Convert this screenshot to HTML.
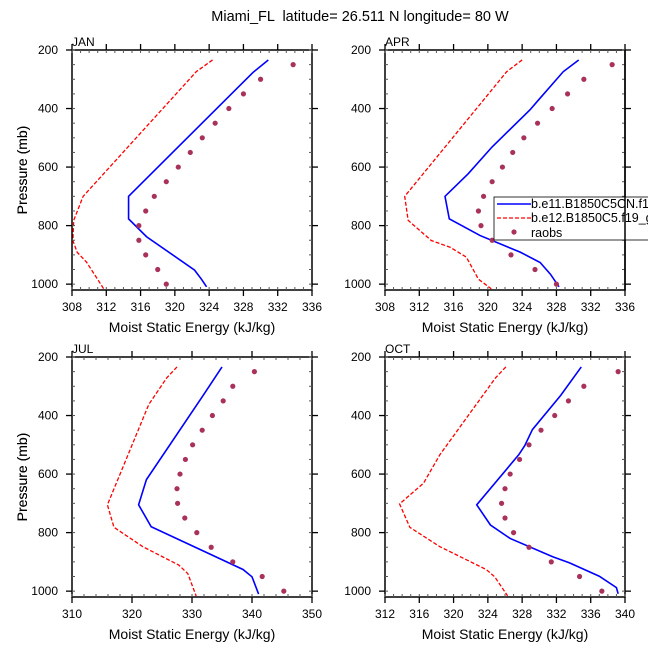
<!DOCTYPE html>
<html><head><meta charset="utf-8"><style>
body{margin:0;background:#fff;}
svg{display:block;font-family:"Liberation Sans",Arial,sans-serif;}
</style></head><body>
<svg id="c" width="648" height="648" viewBox="0 0 648 648">
<text x="360" y="21" font-size="14.5" text-anchor="middle" xml:space="preserve" style="white-space:pre">Miami_FL  latitude= 26.511 N longitude= 80 W</text>
</svg>
<script>
// ---- data ----
const obsP = [250,300,350,400,450,500,550,600,650,700,750,800,850,900,950,1000];
const janObs = [333.8,330.0,328.0,326.3,324.7,323.2,321.8,320.4,319.0,317.6,316.6,315.8,315.8,316.6,318.0,319.0];
const aprObs = [334.5,331.2,329.3,327.5,325.8,324.2,322.9,321.7,320.5,319.5,318.9,319.2,320.5,322.7,325.5,328.0];
const julObs = [340.4,336.8,335.2,333.4,331.7,330.1,328.9,328.0,327.5,327.6,328.8,330.8,333.2,336.8,341.7,345.3];
const octObs = [339.2,335.2,333.4,331.8,330.2,328.8,327.7,326.6,326.0,325.6,326.0,327.0,328.8,331.4,334.7,337.3];

const janBlueP = [234,277,700,777,838,952,983,1009];
const janBlueV = [330.9,329.1,314.6,314.6,316.7,322.3,323.1,323.7];
const janRedP = [234,274,700,782,851,891,925,1016];
const janRedV = [324.4,322.5,309.3,308.2,308.1,308.6,309.7,311.7];

const aprBlueP = [234,274,371,405,531,623,700,777,834,891,926,966,1009];
const aprBlueV = [330.6,328.8,325.9,324.9,320.5,317.7,315.0,315.5,319.1,323.8,326.1,327.3,328.3];
const aprRedP = [234,274,700,782,851,874,908,983,1016];
const aprRedV = [324.0,322.2,310.3,310.7,313.4,315.6,317.5,318.9,320.4];

const julBlueP = [234,333,619,705,780,926,951,1010];
const julBlueV = [335.0,331.8,322.4,321.1,323.2,338.5,340.0,341.1];
const julRedP = [234,271,362,705,782,848,911,940,1017];
const julRedV = [327.5,325.8,322.8,315.9,317.0,321.8,327.8,329.3,330.7];

const octBlueP = [234,331,448,503,534,705,774,820,883,903,949,988,1009];
const octBlueV = [334.9,332.5,329.2,328.3,327.6,322.7,324.3,326.6,331.6,333.5,337.0,339.0,339.2];
const octRedP = [234,271,534,631,702,782,848,926,951,1016];
const octRedV = [326.1,324.9,318.4,316.5,313.7,314.9,318.4,323.8,324.8,326.3];

const pTicks = [200,400,600,800,1000];
const janX = [308,312,316,320,324,328,332,336];
const julX = [310,320,330,340,350];
const octX = [312,316,320,324,328,332,336,340];

const NS='http://www.w3.org/2000/svg';
const svg=document.getElementById('c');
function mk(tag,attrs,parent){const e=document.createElementNS(NS,tag);for(const k in attrs)e.setAttribute(k,attrs[k]);(parent||svg).appendChild(e);return e;}

function panel(name,x0,y0,xmin,xmax,xticks,minorStep,obs,bP,bV,rP,rV){
  const W=240,H=240;
  const g=mk('g',{});
  
  
  const xs=v=>x0+(v-xmin)/(xmax-xmin)*W;
  const ys=p=>y0+(p-200)/820*H;
  const cid='clip'+name;
  const cp=mk('clipPath',{id:cid},g);mk('rect',{x:x0,y:y0,width:W,height:H},cp);
  const blue=mk('polyline',{points:bP.map((p,i)=>xs(bV[i])+','+ys(p)).join(' '),fill:'none',stroke:'#0000ff','stroke-width':1.6,'clip-path':'url(#'+cid+')'},g);
  
  
  const red=mk('polyline',{points:rP.map((p,i)=>xs(rV[i])+','+ys(p)).join(' '),fill:'none',stroke:'#ff0000','stroke-width':1.3,'stroke-dasharray':'4,2','clip-path':'url(#'+cid+')'},g);
  
  
  obs.forEach((v,i)=>{
    const c=mk('circle',{cx:xs(v),cy:ys(obsP[i]),r:2.6,fill:'#a8325c'},g);
    
    
  });
  mk('rect',{x:x0,y:y0,width:W,height:H,fill:'none',stroke:'#000','stroke-width':1.5},g);
  for(let v=xmin;v<=xmax+1e-6;v+=minorStep){
    const X=xs(v);
    mk('line',{x1:X,y1:y0+H,x2:X,y2:y0+H-3,stroke:'#555','stroke-width':1},g);
    mk('line',{x1:X,y1:y0,x2:X,y2:y0+3,stroke:'#555','stroke-width':1},g);
  }
  xticks.forEach(v=>{
    const X=xs(v);
    mk('line',{x1:X,y1:y0+H,x2:X,y2:y0+H+6,stroke:'#000','stroke-width':1.3},g);
    mk('line',{x1:X,y1:y0,x2:X,y2:y0-6,stroke:'#000','stroke-width':1.3},g);
    const t=mk('text',{x:X,y:y0+H+21,'font-size':12,'text-anchor':'middle'},g);t.textContent=v;
    
    
  });
  for(let p=200;p<=1000;p+=50){
    const Y=ys(p);
    mk('line',{x1:x0,y1:Y,x2:x0+3,y2:Y,stroke:'#555','stroke-width':1},g);
    mk('line',{x1:x0+W,y1:Y,x2:x0+W-3,y2:Y,stroke:'#555','stroke-width':1},g);
  }
  pTicks.forEach(p=>{
    const Y=ys(p);
    mk('line',{x1:x0,y1:Y,x2:x0-6,y2:Y,stroke:'#000','stroke-width':1.3},g);
    mk('line',{x1:x0+W,y1:Y,x2:x0+W+6,y2:Y,stroke:'#000','stroke-width':1.3},g);
    const t=mk('text',{x:x0-14,y:Y+4,'font-size':12,'text-anchor':'end'},g);t.textContent=p;
    
    
  });
  const lab=mk('text',{x:x0,y:y0-4,'font-size':12},g);lab.textContent=name;
  
  
  const xt=mk('text',{x:x0+W/2,y:y0+H+42,'font-size':14,'text-anchor':'middle'},g);xt.textContent='Moist Static Energy (kJ/kg)';
  
  
  const yt=mk('text',{x:0,y:0,'font-size':14,'text-anchor':'middle',transform:'translate(27,'+(y0+H/2)+') rotate(-90)'},g);yt.textContent='Pressure (mb)';
  
  
  return {xs,ys};
}
panel('JAN',72,50,308,336,janX,1,janObs,janBlueP,janBlueV,janRedP,janRedV);
panel('APR',385,50,308,336,janX,1,aprObs,aprBlueP,aprBlueV,aprRedP,aprRedV);
panel('JUL',72,357,310,350,julX,2,julObs,julBlueP,julBlueV,julRedP,julRedV);
panel('OCT',385,357,312,340,octX,1,octObs,octBlueP,octBlueV,octRedP,octRedV);
const lg=mk('g',{});


mk('rect',{x:494,y:197,width:160,height:43,fill:'#fff',stroke:'#000','stroke-width':0.8},lg);
mk('line',{x1:497,y1:204,x2:531,y2:204,stroke:'#0000ff','stroke-width':1.6},lg);
mk('line',{x1:497,y1:218,x2:531,y2:218,stroke:'#ff0000','stroke-width':1.3,'stroke-dasharray':'4,2'},lg);
mk('circle',{cx:514,cy:232,r:2.6,fill:'#a8325c'},lg);
[['b.e11.B1850C5CN.f19_g16',208],['b.e12.B1850C5.f19_g16',222],['raobs',237]].forEach(([s,y])=>{
  const t=mk('text',{x:531,y:y,'font-size':12.5},lg);t.textContent=s;
  
  
});
mk('line',{x1:625,y1:50,x2:625,y2:290,stroke:'#000','stroke-width':1.5},lg);
</script>
</body></html>
